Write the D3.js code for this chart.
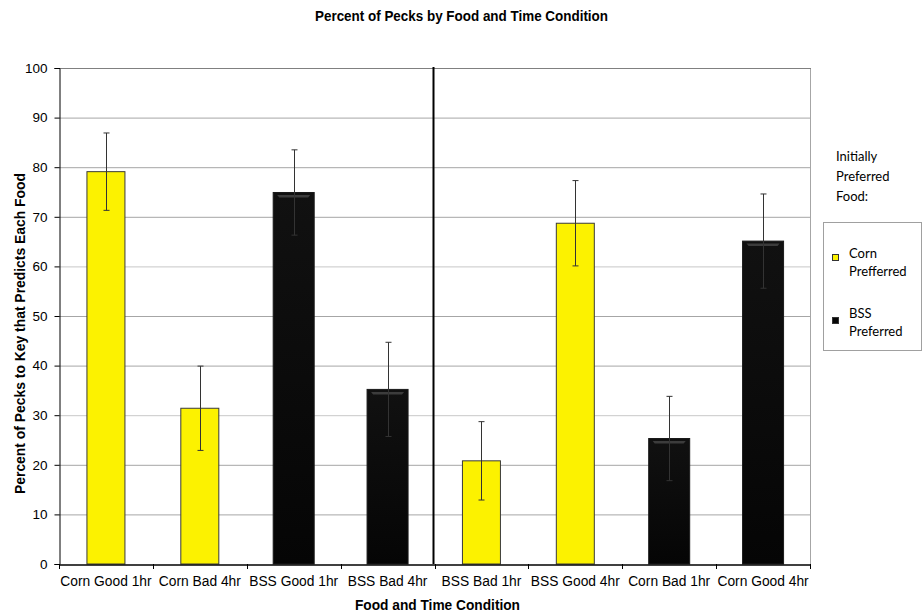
<!DOCTYPE html>
<html><head><meta charset="utf-8">
<script src="https://cdn.jsdelivr.net/npm/d3@7"></script>
<style>body{margin:0;background:#fff}svg{display:block}</style>
</head><body>
<script>
const categories = ["Corn Good 1hr","Corn Bad 4hr","BSS Good 1hr","BSS Bad 4hr","BSS Bad 1hr","BSS Good 4hr","Corn Bad 1hr","Corn Good 4hr"];
const values = [79.1, 31.4, 74.9, 35.2, 20.8, 68.7, 25.3, 65.1];
const errors = [7.8, 8.5, 8.6, 9.5, 7.9, 8.6, 8.5, 9.5];
const groups = ["Corn Prefferred","Corn Prefferred","BSS Preferred","BSS Preferred","Corn Prefferred","Corn Prefferred","BSS Preferred","BSS Preferred"];
const seriesNames = ["Corn Prefferred","BSS Preferred"];
const seriesColors = ["#FCF200","#060606"];
const yTicks = [0,10,20,30,40,50,60,70,80,90,100];

const W=924,H=614, L=59, R=810, T=68, B=564;
const AF="'Liberation Sans', Arial, sans-serif";
const svg=d3.select("body").append("svg").attr("width",W).attr("height",H);
const x=d3.scaleBand().domain(categories).range([L,R]).paddingInner(0).paddingOuter(0);
const y=d3.scaleLinear().domain([0,100]).range([B,T]);
const color=d3.scaleOrdinal().domain(seriesNames).range(seriesColors);

const defs=svg.append("defs");
const g=defs.append("linearGradient").attr("id","blk").attr("x1",0).attr("y1",0).attr("x2",0).attr("y2",1);
g.append("stop").attr("offset","0").attr("stop-color","#111");
g.append("stop").attr("offset","1").attr("stop-color","#050505");

// gridlines
svg.append("g").selectAll("line").data(yTicks.filter(d=>d>0)).join("line")
  .attr("x1",L).attr("x2",R).attr("y1",d=>y(d)+0.5).attr("y2",d=>y(d)+0.5)
  .attr("stroke",d=>d%30===0&&d!==90?"#c8c8c8":"#a6a6a6").attr("stroke-width",1);
svg.append("line").attr("x1",R+0.5).attr("x2",R+0.5).attr("y1",T).attr("y2",B).attr("stroke","#a6a6a6");

// bars
const bw=i=>groups[i]==="BSS Preferred"?41:38;
const bars=svg.append("g");
categories.forEach((c,i)=>{
  const w=bw(i), cx=x(c)+x.bandwidth()/2;
  const isB=groups[i]==="BSS Preferred";
  bars.append("rect").attr("x",cx-w/2).attr("y",y(values[i])).attr("width",w).attr("height",B-y(values[i]))
    .attr("fill",isB?"url(#blk)":color(groups[i]))
    .attr("stroke",isB?"#1a1a1a":"#3a3a3a").attr("stroke-width",1);
  if(isB){
    const yt=y(values[i]);
    bars.append("path").attr("d",`M${cx-w/2+4},${yt+2.5} L${cx+w/2-4},${yt+2.5} L${cx+w/2-6},${yt+5} L${cx-w/2+6},${yt+5}Z`)
      .attr("fill","#3c3c3c");
  }
});

// error bars
const eb=svg.append("g").attr("stroke","#333").attr("stroke-width",1);
categories.forEach((c,i)=>{
  const cx=Math.round(x(c)+x.bandwidth()/2)+0.5;
  const y1=y(values[i]+errors[i]), y2=y(values[i]-errors[i]);
  eb.append("line").attr("x1",cx).attr("x2",cx).attr("y1",y1).attr("y2",y2);
  eb.append("line").attr("x1",cx-3).attr("x2",cx+3).attr("y1",y1).attr("y2",y1);
  eb.append("line").attr("x1",cx-3).attr("x2",cx+3).attr("y1",y2).attr("y2",y2);
});

svg.append("line").attr("x1",L).attr("x2",R+1).attr("y1",T+0.5).attr("y2",T+0.5).attr("stroke","#808080");

// divider between groups
const dx=x(categories[4])-1;
svg.append("line").attr("x1",dx).attr("x2",dx).attr("y1",T-1).attr("y2",B).attr("stroke","#000").attr("stroke-width",2);

// y axis
const ya=svg.append("g").attr("transform",`translate(${L+0.5},0)`)
  .call(d3.axisLeft(y).tickValues(yTicks).tickSize(5).tickPadding(7));
ya.attr("font-family",null).attr("font-size",null);
ya.select(".domain").attr("stroke","#000");
ya.selectAll(".tick line").attr("stroke","#000");
ya.selectAll("text").style("font-family",AF).style("font-size","13.5px").attr("fill","#000");

// x axis
const xa=svg.append("g").attr("transform",`translate(0,${B+0.5})`)
  .call(d3.axisBottom(x).tickSize(0).tickPadding(12));
xa.attr("font-family",null).attr("font-size",null);
xa.select(".domain").attr("stroke","#000").attr("stroke-width",1.5);
xa.selectAll("text").style("font-family",AF).style("font-size","13.8px").attr("fill","#000");
svg.append("g").selectAll("line").data(categories.map(c=>x(c)).concat([R])).join("line")
  .attr("x1",d=>Math.round(d)+0.5).attr("x2",d=>Math.round(d)+0.5).attr("y1",B).attr("y2",B+5).attr("stroke","#000");

// titles
svg.append("text").attr("x",461.5).attr("y",21).attr("text-anchor","middle")
  .attr("textLength",293).attr("lengthAdjust","spacingAndGlyphs")
  .style("font-family",AF).style("font-weight","bold").style("font-size","15px")
  .text("Percent of Pecks by Food and Time Condition");
svg.append("text").attr("x",437.5).attr("y",610).attr("text-anchor","middle")
  .attr("textLength",165).attr("lengthAdjust","spacingAndGlyphs")
  .style("font-family",AF).style("font-weight","bold").style("font-size","14px")
  .text("Food and Time Condition");
svg.append("text").attr("transform",`translate(25,333.5) rotate(-90)`).attr("text-anchor","middle")
  .attr("textLength",321).attr("lengthAdjust","spacingAndGlyphs")
  .style("font-family",AF).style("font-weight","bold").style("font-size","15.5px")
  .text("Percent of Pecks to Key that Predicts Each Food");

// legend
const lf="Lato, 'Open Sans', sans-serif";
const lt=svg.append("text").style("font-family",lf).style("font-size","13px").attr("fill","#000");
["Initially","Preferred","Food:"].forEach((s,i)=>lt.append("tspan").attr("x",836).attr("y",161+i*20).text(s));
svg.append("rect").attr("x",823.5).attr("y",222.5).attr("width",98).attr("height",128).attr("fill","#fff").attr("stroke","#a0a0a0");
const legendItems=[{name:seriesNames[0],lines:["Corn","Prefferred"],ty:258,my:254},{name:seriesNames[1],lines:["BSS","Preferred"],ty:318,my:317}];
legendItems.forEach(it=>{
  svg.append("rect").attr("x",832.5).attr("y",it.my+0.5).attr("width",6).attr("height",6)
    .attr("fill",color(it.name)).attr("stroke","#333");
  const t=svg.append("text").style("font-family",lf).style("font-size","13px").attr("fill","#000");
  it.lines.forEach((s,i)=>t.append("tspan").attr("x",849).attr("y",it.ty+i*18).text(s));
});
</script>
</body></html>
